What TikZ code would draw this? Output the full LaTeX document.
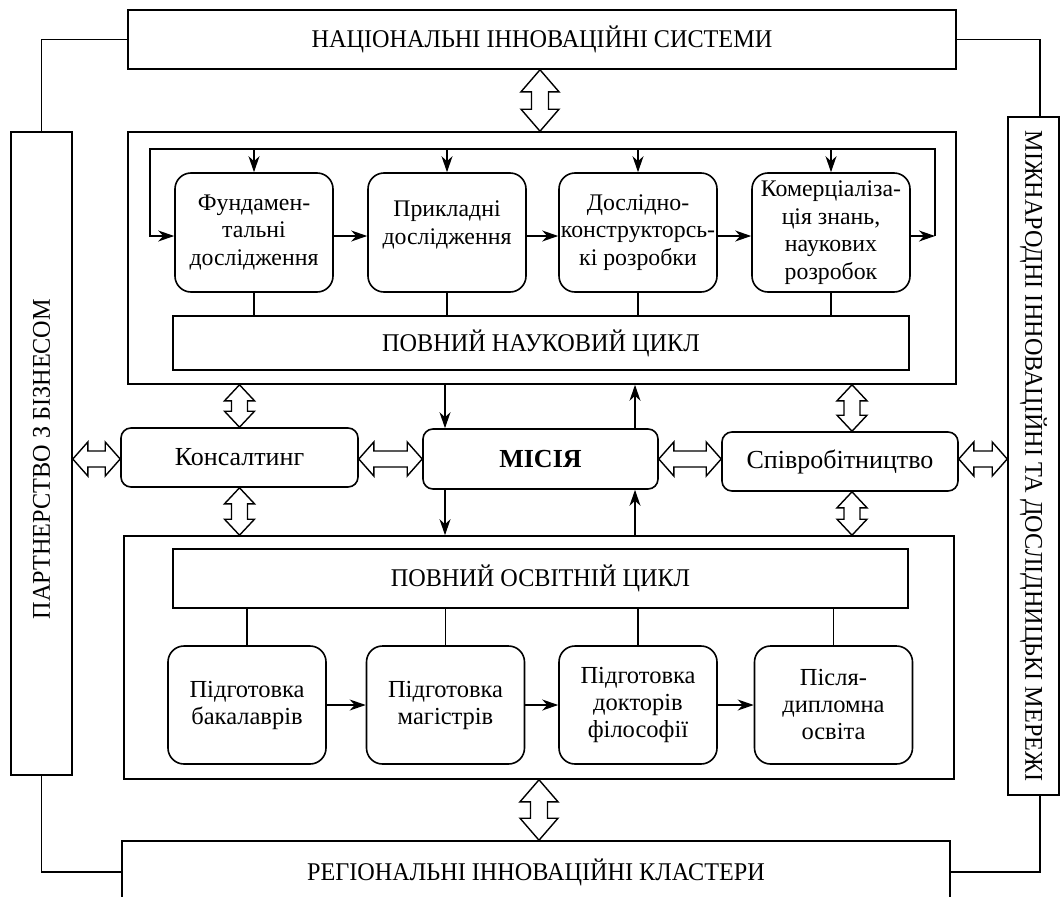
\documentclass[tikz,border=0pt]{standalone}
\usepackage{fontspec}
\setmainfont{Liberation Serif}
\newfontfamily\capsfont[FakeStretch=0.95]{Liberation Serif}
\usetikzlibrary{arrows.meta,calc}

% two-headed hollow arrows: #1,#2 tips, #3 half head width, #4 half shaft width, #5 head length
\newcommand\vtwo[5]{%
  \draw[dblar] #1 -- ++(#3,#5) -- ++(#4-#3,0) -- ($#2+(#4,-#5)$) -- ++(#3-#4,0) -- #2
    -- ++(-#3,-#5) -- ++(#3-#4,0) -- ($#1+(-#4,#5)$) -- ++(#4-#3,0) -- cycle;}
\newcommand\htwo[5]{%
  \draw[dblar] #1 -- ++(#5,-#3) -- ++(0,#3-#4) -- ($#2+(-#5,-#4)$) -- ++(0,#4-#3) -- #2
    -- ++(-#5,#3) -- ++(0,#4-#3) -- ($#1+(#5,#4)$) -- ++(0,#3-#4) -- cycle;}

\begin{document}
\begin{tikzpicture}[x=1pt,y=-1pt,
  frame/.style={draw, line width=1.6pt, fill=white, inner sep=0pt, align=center},
  rbox/.style={frame, rounded corners=16pt},
  caps/.style={font=\capsfont\fontsize{25.5}{28}\selectfont},
  scitext/.style={font=\fontsize{23.8}{27.5}\selectfont},
  edutext/.style={font=\fontsize{24.5}{27}\selectfont},
  midtext/.style={font=\fontsize{26}{28}\selectfont},
  link/.style={line width=1.4pt},
  arr/.style={link, -{Stealth[length=16pt,width=11pt,inset=5pt]}},
  dblar/.style={line width=1.4pt, fill=white, line join=miter}]

\useasboundingbox (0,0) rectangle (1061,897);

% reference columns and rows
\coordinate (x540) at (540,0);
\coordinate (x539) at (539,0);
\coordinate (x852) at (852,0);
\coordinate (x445) at (445,0);
\coordinate (x635) at (635,0);
\coordinate (x1040) at (1040,0);
\coordinate (r459) at (0,459);
\coordinate (lt) at (150,149);
\coordinate (rt) at (935,149);

% outer frame boxes
\node[frame, caps, minimum width=828pt, minimum height=59pt] (nat) at (542,39.5)
  {НАЦІОНАЛЬНІ ІННОВАЦІЙНІ СИСТЕМИ};
\node[frame, caps, minimum width=828pt, minimum height=62pt] (reg) at (536,872)
  {РЕГІОНАЛЬНІ ІННОВАЦІЙНІ КЛАСТЕРИ};
\node[frame, minimum width=61pt, minimum height=643pt] (lb) at (41.5,453.5) {};
\node[caps, rotate=90] at (41.5,459) {ПАРТНЕРСТВО З БІЗНЕСОМ};
\node[frame, minimum width=51pt, minimum height=678pt] (rb) at (1033.5,456) {};
\node[caps, rotate=-90] at (1033.5,456) {МІЖНАРОДНІ ІННОВАЦІЙНІ ТА ДОСЛІДНИЦЬКІ МЕРЕЖІ};

% connectors of the outer frame
\draw[link] (nat.west) -| (lb.north);
\draw[link] (nat.east) -| (x1040 |- rb.north);
\draw[link] (lb.south) |- (reg.west);
\draw[link] (x1040 |- rb.south) |- (reg.east);

% research cycle
\node[frame, minimum width=828pt, minimum height=252pt] (sci) at (542,258) {};
\node[rbox, scitext, minimum width=158pt, minimum height=119pt] (f1) at (254,232.5)
  {Фундамен-\\тальні\\дослідження};
\node[rbox, scitext, minimum width=158pt, minimum height=119pt] (f2) at (447,232.5)
  {Прикладні\\дослідження\\[-16pt]\strut};
\node[rbox, scitext, minimum width=158pt, minimum height=119pt] (f3) at (638,232.5)
  {Дослідно-\\конструкторсь-\\кі розробки};
\node[rbox, scitext, minimum width=158pt, minimum height=119pt] (f4) at (831,232.5)
  {Комерціаліза-\\ція знань,\\наукових\\розробок};
\node[frame, caps, minimum width=736pt, minimum height=54pt] (scibar) at (541,343)
  {ПОВНИЙ НАУКОВИЙ ЦИКЛ};

\draw[arr] ([yshift=-3.5pt]f1.east) -- ([yshift=-3.5pt]f2.west);
\draw[arr] ([yshift=-3.5pt]f2.east) -- ([yshift=-3.5pt]f3.west);
\draw[arr] ([yshift=-3.5pt]f3.east) -- ([yshift=-3.5pt]f4.west);
\draw[arr] ([yshift=-3.5pt]f4.east) -- ([yshift=-3.5pt]f4.east -| rt);
\draw[arr] ([yshift=-3.5pt]f4.east -| rt) -- (rt) -- (lt)
  -- ([yshift=-3.5pt]f1.west -| lt) -- ([yshift=-3.5pt]f1.west);
\foreach \n in {f1,f2,f3,f4} {
  \draw[arr] (\n.north |- lt) -- (\n.north);
  \draw[link] (\n.south) -- (\n.south |- scibar.north);
}

% education cycle
\node[frame, minimum width=830pt, minimum height=243pt] (edu) at (539,657.5) {};
\node[frame, caps, minimum width=735pt, minimum height=59pt] (edubar) at (540.5,578.5)
  {ПОВНИЙ ОСВІТНІЙ ЦИКЛ};
\node[rbox, edutext, minimum width=158pt, minimum height=118pt] (e1) at (247,705)
  {Підготовка\\бакалаврів};
\node[rbox, edutext, minimum width=158pt, minimum height=118pt] (e2) at (445.5,705)
  {Підготовка\\магістрів};
\node[rbox, edutext, minimum width=158pt, minimum height=118pt] (e3) at (638,705)
  {Підготовка\\докторів\\філософії};
\node[rbox, edutext, minimum width=158pt, minimum height=118pt] (e4) at (833.5,705)
  {Після-\\дипломна\\освіта};
\draw[arr] (e1.east) -- (e2.west);
\draw[arr] (e2.east) -- (e3.west);
\draw[arr] (e3.east) -- (e4.west);
\foreach \n in {e1,e2,e3,e4}
  \draw[link] (\n.north) -- (\n.north |- edubar.south);

% middle row
\node[rbox, midtext, rounded corners=10pt, minimum width=237pt, minimum height=59pt] (kons) at (239.5,457.5)
  {Консалтинг};
\node[rbox, midtext, rounded corners=10pt, minimum width=235pt, minimum height=60pt] (mis) at (540.5,459)
  {\bfseries МІСІЯ};
\node[rbox, midtext, rounded corners=10pt, minimum width=236pt, minimum height=59pt] (spiv) at (840,461.5)
  {Співробітництво};

\draw[arr] (sci.south -| x445) -- (mis.north -| x445);
\draw[arr] (mis.north -| x635) -- (sci.south -| x635);
\draw[arr] (mis.south -| x445) -- (edu.north -| x445);
\draw[arr] (edu.north -| x635) -- (mis.south -| x635);

% two-way links
\vtwo{(nat.south -| x540)}{(sci.north -| x540)}{19}{8.5}{22}
\vtwo{(edu.south -| x539)}{(reg.north -| x539)}{19}{8.5}{22}
\vtwo{(sci.south -| kons.north)}{(kons.north)}{15}{8}{16}
\vtwo{(kons.south)}{(edu.north -| kons.south)}{15}{8}{16}
\vtwo{(sci.south -| x852)}{(spiv.north -| x852)}{15}{8}{16}
\vtwo{(spiv.south -| x852)}{(edu.north -| x852)}{15}{8}{16}
\htwo{(lb.east |- r459)}{(kons.west |- r459)}{17}{8}{15}
\htwo{(kons.east |- r459)}{(mis.west |- r459)}{17}{8}{15}
\htwo{(mis.east |- r459)}{(spiv.west |- r459)}{17}{8}{15}
\htwo{(spiv.east |- r459)}{(rb.west |- r459)}{17}{8}{15}
\end{tikzpicture}
\end{document}
